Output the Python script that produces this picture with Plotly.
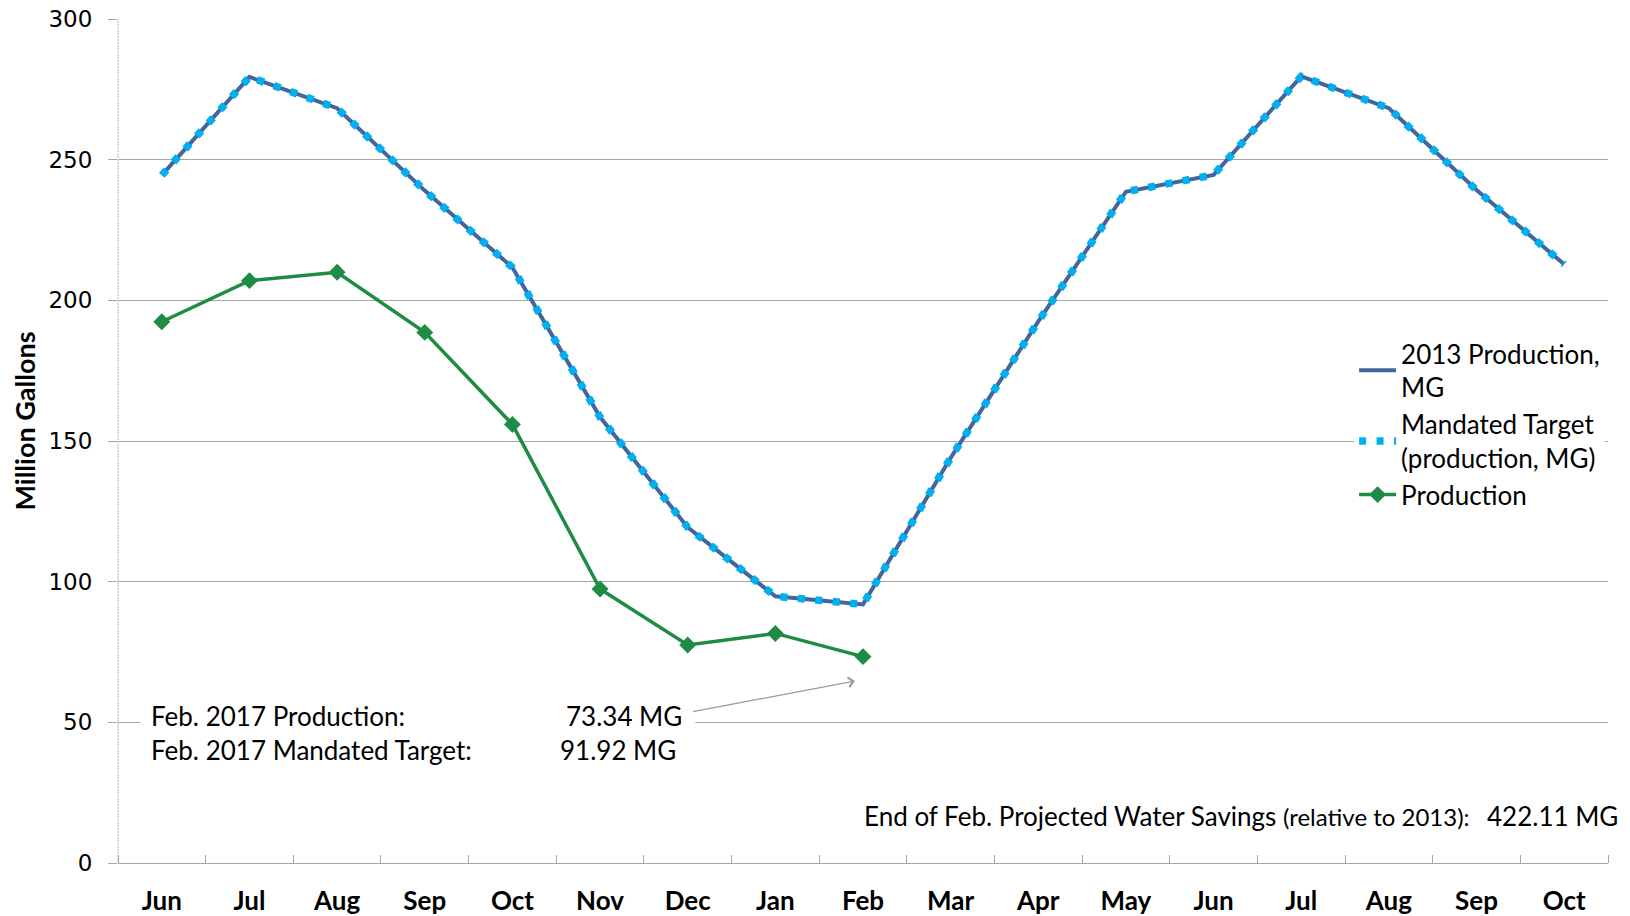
import plotly.graph_objects as go

# ---- data ----
months = ["Jun", "Jul", "Aug", "Sep", "Oct", "Nov", "Dec", "Jan", "Feb",
          "Mar", "Apr", "May", "Jun", "Jul", "Aug", "Sep", "Oct"]
production_2013 = [244.5, 279.4, 268.3, 239.0, 211.7, 158.5, 119.3, 94.8, 91.92,
                   144.0, 192.5, 238.6, 244.6, 279.6, 268.3, 239.2, 212.8]
mandated_target = [244.5, 279.4, 268.3, 239.0, 211.7, 158.5, 119.3, 94.8, 91.92,
                   144.0, 192.5, 238.6, 244.6, 279.6, 268.3, 239.2, 212.8]
production = [192.4, 207.0, 210.0, 188.6, 155.9, 97.4, 77.5, 81.6, 73.34]
projected_savings = 422.11

x_idx = list(range(len(months)))

# ---- layout geometry (page pixels) ----
SW, SH = 1630, 916
L, R, T, B = 117.5, 1608, 19, 863


def px(xp):
    return (xp - L) / (R - L)


def py(yp):
    return (B - yp) / (B - T)


FONT = "Lato, Carlito, Calibri, sans-serif"
DARK_BLUE = "#41679F"
LIGHT_BLUE = "#00B0F0"
GREEN = "#1E8C45"
GRID = "#A6A6A6"
FS = 26

fig = go.Figure()

fig.add_trace(go.Scatter(
    x=x_idx, y=production_2013, mode="lines",
    name="2013 Production,<br>MG",
    line=dict(color=DARK_BLUE, width=4),
))
fig.add_trace(go.Scatter(
    x=x_idx, y=mandated_target, mode="lines",
    name="Mandated Target<br>(production, MG)",
    line=dict(color=LIGHT_BLUE, width=7.5, dash="7px,10.5px"),
))
fig.add_trace(go.Scatter(
    x=x_idx[:len(production)], y=production, mode="lines+markers",
    name="Production",
    line=dict(color=GREEN, width=3.5),
    marker=dict(symbol="diamond", size=13, color=GREEN),
))

txt = dict(family=FONT, size=FS, color="#000000")
annotations = [
    dict(text="Million Gallons", textangle=-90, x=px(23), y=py(421),
         xref="paper", yref="paper", xanchor="center", yanchor="middle", showarrow=False,
         font=dict(family=FONT, size=27, color="#000000", weight="bold")),
    dict(text="Feb. 2017 Production:", x=px(149), y=py(716), xref="paper", yref="paper",
         xanchor="left", yanchor="middle", showarrow=False, font=txt),
    dict(text=f"{production[-1]:.2f} MG", x=px(684), y=py(716), xref="paper", yref="paper",
         xanchor="right", yanchor="middle", showarrow=False, font=txt),
    dict(text="Feb. 2017 Mandated Target:", x=px(149), y=py(750), xref="paper", yref="paper",
         xanchor="left", yanchor="middle", showarrow=False, font=txt),
    dict(text=f"{mandated_target[8]:.2f} MG", x=px(678), y=py(750), xref="paper", yref="paper",
         xanchor="right", yanchor="middle", showarrow=False, font=txt),
    dict(text="End of Feb. Projected Water Savings <span style='font-size:24px'>(relative to 2013):</span>",
         x=px(1472), y=py(816), xref="paper", yref="paper",
         xanchor="right", yanchor="middle", showarrow=False, font=txt),
    dict(text=f"{projected_savings:.2f} MG", x=px(1620), y=py(816), xref="paper", yref="paper",
         xanchor="right", yanchor="middle", showarrow=False, font=txt),
    dict(text="", x=7.907, y=64.7, ax=6.043, ay=53.7, xref="x", yref="y",
         axref="x", ayref="y", showarrow=True, arrowhead=4, arrowsize=1.6,
         arrowwidth=1.2, arrowcolor="#9A9A9A"),
]

shapes = [
    dict(type="rect", xref="paper", yref="paper", x0=px(140), x1=px(695),
         y0=py(768), y1=py(700), fillcolor="white", line=dict(width=0), layer="above"),
    dict(type="line", xref="paper", yref="paper", x0=0, x1=0, y0=0, y1=1,
         line=dict(color="#B4B4B4", width=1, dash="2px,1px"), layer="below"),
]

fig.update_layout(
    width=SW, height=SH,
    margin=dict(l=L, r=SW - R, t=T, b=SH - B, pad=0, autoexpand=False),
    paper_bgcolor="white", plot_bgcolor="white",
    font=dict(family=FONT, size=FS, color="#000000"),
    showlegend=True,
    legend=dict(x=px(1354), y=py(330), xanchor="left", yanchor="top",
                bgcolor="white", borderwidth=0,
                font=dict(family=FONT, size=FS, color="#000000"),
                itemwidth=37, tracegroupgap=0),
    annotations=annotations,
    shapes=shapes,
    hovermode=False,
    xaxis=dict(
        range=[-0.5, len(months) - 0.5], automargin=False,
        tickmode="array", tickvals=x_idx, ticktext=months,
        ticks="", showgrid=False, zeroline=False,
        showline=True, linecolor=GRID, linewidth=1,
        tickfont=dict(family=FONT, size=FS, color="#000000", weight="bold"),
        ticklabelstandoff=15, ticklabeloverflow="allow",
        minor=dict(tickmode="array", tickvals=[i - 0.5 for i in range(len(months) + 1)],
                   ticks="inside", ticklen=8, tickcolor=GRID, tickwidth=1, showgrid=False),
    ),
    yaxis=dict(
        range=[0, 300], tickmode="linear", tick0=0, dtick=50, automargin=False,
        showgrid=True, gridcolor=GRID, gridwidth=1, zeroline=False,
        showline=False,
        ticks="outside", ticklen=9, tickcolor=GRID, tickwidth=1,
        tickfont=dict(family="DejaVu Sans", size=23, color="#000000"),
        ticklabelstandoff=11, ticklabeloverflow="allow",
    ),
)

fig.write_html("out.html", config={"displayModeBar": False},
               post_script="document.body.style.margin='0';")
